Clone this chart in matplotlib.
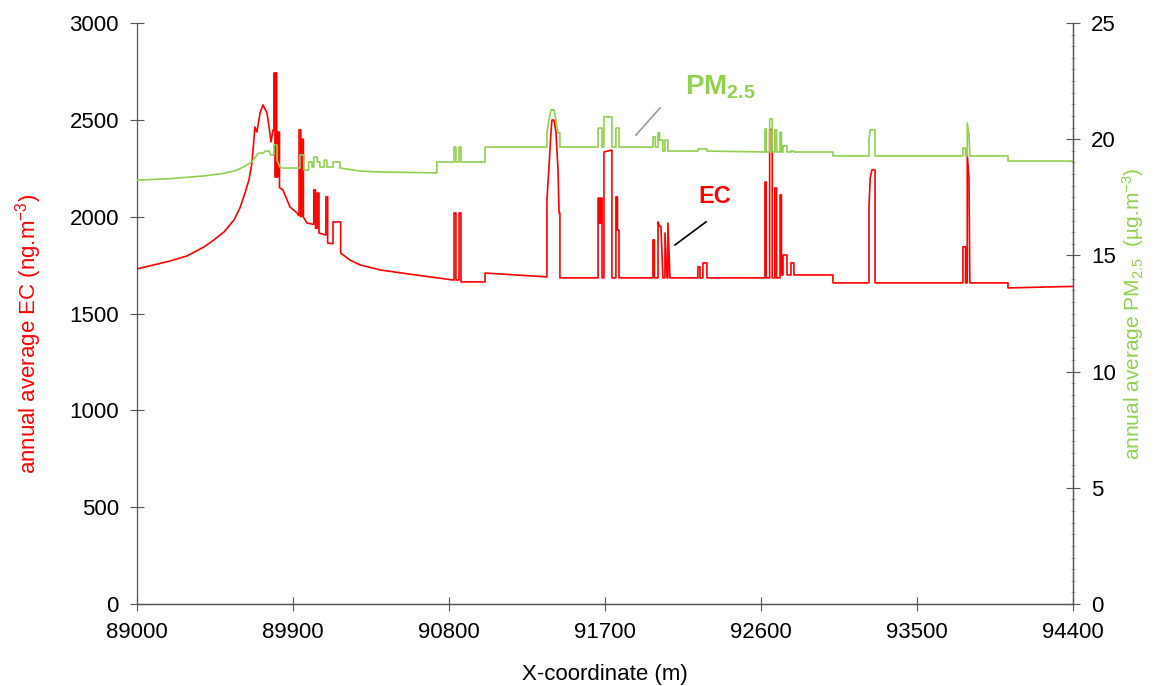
import numpy as np
import matplotlib.pyplot as plt

plt.rcParams['font.family'] = ['Liberation Sans', 'DejaVu Sans']
plt.rcParams['mathtext.fontset'] = 'custom'
plt.rcParams['mathtext.rm'] = 'Liberation Sans'
plt.rcParams['mathtext.it'] = 'Liberation Sans:italic'
plt.rcParams['mathtext.bf'] = 'Liberation Sans:bold'
plt.rcParams['mathtext.default'] = 'regular'

# EC profile (ng/m3), step vertices
ec_x = [89000, 89098, 89190, 89288, 89387, 89444, 89502, 89560, 89594, 89623,
        89646, 89663, 89675, 89680,
        89692, 89710, 89727, 89750, 89762, 89773, 89785, 89790, 89790, 89796,
        89796, 89802, 89802, 89806, 89806, 89813, 89813, 89822, 89822, 89842,
        89883, 89923, 89935, 89935, 89945, 89945, 89950, 89950, 89960, 89960,
        89981, 90020, 90020, 90030, 90030, 90040, 90040, 90050, 90050, 90090,
        90090, 90100, 90100, 90131, 90131, 90175, 90175, 90229, 90287, 90402,
        90600, 90823, 90829, 90829, 90840, 90840, 90858, 90858, 90869, 90869,
        91008, 91008, 91365, 91365, 91377, 91388, 91394, 91406, 91417, 91429,
        91435, 91440, 91440, 91660, 91660, 91668, 91668, 91676, 91676, 91683,
        91683, 91694, 91694, 91740, 91740, 91763, 91763, 91772, 91772, 91781,
        91781, 91977, 91977, 91985, 91985, 92006, 92006, 92015, 92023, 92034,
        92046, 92046, 92058, 92063, 92063, 92075, 92236, 92236, 92248, 92248,
        92265, 92265, 92288, 92288, 92623, 92623, 92630, 92630, 92650, 92650,
        92665, 92665, 92680, 92680, 92690, 92690, 92710, 92710, 92718, 92718,
        92727, 92727, 92750, 92750, 92773, 92773, 92790, 92790, 93015, 93015,
        93223, 93223, 93230, 93240, 93258, 93258, 93765, 93765, 93780, 93780,
        93790, 93790, 93800, 93805, 94025, 94025, 94400]
ec_y = [1730, 1751, 1771, 1797, 1844, 1880, 1921, 1983, 2045, 2122,
        2190, 2277, 2400, 2463,
        2437, 2535, 2577, 2535, 2463, 2386, 2448, 2448, 2742, 2742,
        2205, 2205, 2742, 2742, 2205, 2205, 2437, 2437, 2150, 2138,
        2050, 2019, 2005, 2448, 2448, 2000, 2000, 2400, 2400, 1998,
        1967, 1960, 2138, 2138, 1940, 1940, 2122, 2122, 1916, 1905,
        2102, 2102, 1864, 1860, 1973, 1973, 1812, 1776, 1751, 1725,
        1700, 1673, 1673, 2019, 2019, 1673, 1673, 2019, 2019, 1663,
        1663, 1709, 1689, 2086, 2257, 2432, 2499, 2499, 2437, 2241,
        2019, 2019, 1684, 1684, 2096, 2096, 1967, 1967, 2096, 2096,
        1684, 1684, 2334, 2344, 1684, 1684, 2102, 2102, 1931, 1931,
        1684, 1684, 1880, 1880, 1684, 1684, 1973, 1950, 1950, 1684,
        1684, 1916, 1684, 1684, 1967, 1684, 1684, 1741, 1741, 1684,
        1684, 1761, 1761, 1684, 1684, 2179, 2179, 1684, 1684, 2450,
        2450, 1684, 1684, 2148, 2148, 1684, 1684, 2112, 2112, 1699,
        1699, 1802, 1802, 1699, 1699, 1761, 1761, 1699, 1699, 1658,
        1658, 2050, 2200, 2241, 2241, 1658, 1658, 1844, 1844, 1658,
        1658, 2319, 2200, 1658, 1658, 1632, 1640]

# PM2.5 profile (ug/m3)
pm_x = [89000, 89190, 89387, 89502, 89577, 89635, 89663, 89700, 89727, 89740, 89762, 89770,
        89790, 89790, 89808, 89808, 89825, 89842, 89940, 89940, 89963, 89963,
        89990, 89990, 90010, 90010, 90020, 90020, 90040, 90040, 90055, 90055,
        90080, 90080, 90096, 90096, 90131, 90131, 90171, 90171, 90287, 90402,
        90730, 90730, 90829, 90829, 90840, 90840, 90858, 90858, 90869, 90869,
        91008, 91008, 91365, 91365, 91377, 91388, 91406, 91417, 91429, 91440,
        91440, 91660, 91660, 91683, 91683, 91694, 91694, 91740, 91740, 91763,
        91763, 91781, 91781, 91977, 91977, 91990, 91990, 92006, 92006, 92015,
        92015, 92034, 92034, 92046, 92046, 92063, 92063, 92236, 92236, 92288,
        92288, 92623, 92623, 92630, 92630, 92650, 92650, 92665, 92665, 92680,
        92680, 92690, 92690, 92710, 92710, 92718, 92718, 92727, 92727, 92750,
        92750, 92773, 92773, 92790, 92790, 93015, 93015, 93223, 93223, 93230,
        93258, 93258, 93765, 93765, 93780, 93780, 93790, 93790, 93800, 93805,
        94025, 94025, 94400]
pm_y = [18.24, 18.30, 18.42, 18.53, 18.67, 18.89, 19.03, 19.40, 19.40, 19.49, 19.49, 19.32,
        19.32, 19.75, 19.75, 19.10, 18.80, 18.76, 18.76, 19.32, 19.32, 18.67,
        18.67, 19.02, 19.02, 18.80, 18.80, 19.23, 19.23, 19.02, 19.02, 18.80,
        18.80, 19.10, 19.10, 18.80, 18.80, 19.02, 19.02, 18.76, 18.63, 18.59,
        18.55, 19.02, 19.02, 19.66, 19.66, 19.02, 19.02, 19.66, 19.66, 19.02,
        19.02, 19.66, 19.66, 20.27, 20.83, 21.26, 21.26, 20.83, 20.27, 20.27,
        19.66, 19.66, 20.48, 20.48, 19.66, 19.66, 20.96, 20.96, 19.66, 19.66,
        20.48, 20.48, 19.66, 19.66, 20.10, 20.10, 19.66, 19.66, 20.27, 20.27,
        19.96, 19.96, 19.49, 19.49, 19.96, 19.96, 19.49, 19.49, 19.58, 19.58,
        19.49, 19.45, 20.44, 20.44, 19.45, 19.45, 20.87, 20.87, 19.45, 19.45,
        20.40, 20.40, 19.45, 19.45, 20.30, 20.30, 19.45, 19.45, 19.71, 19.71,
        19.45, 19.45, 19.49, 19.49, 19.45, 19.45, 19.28, 19.28, 20.00, 20.40,
        20.40, 19.28, 19.28, 19.62, 19.62, 19.28, 19.28, 20.70, 20.20, 19.28,
        19.28, 19.06, 19.06]

x_ticks = [89000, 89900, 90800, 91700, 92600, 93500, 94400]

red = '#ff0000'
green = '#92d050'
axis_col = '#555555'

fig = plt.figure(figsize=(11.55, 6.86), dpi=100)
ax = fig.add_axes([0.1186, 0.1195, 0.8104, 0.847])
ax2 = ax.twinx()

ax.plot(ec_x, ec_y, color=red, lw=1.2)
ax2.plot(pm_x, pm_y, color=green, lw=1.2)

ax.set_xlim(89000, 94400)
ax.set_ylim(0, 3000)
ax2.set_ylim(0, 25)
ax.set_xticks(x_ticks)
ax.set_yticks(np.arange(0, 3001, 500))
ax2.set_yticks(np.arange(0, 26, 5))
ax2.set_yticks(np.arange(0, 25.1, 0.5), minor=True)

for a in (ax, ax2):
    a.spines['top'].set_visible(False)
    for s in ('left', 'right', 'bottom'):
        a.spines[s].set_color(axis_col)
        a.spines[s].set_linewidth(0.9)
    a.tick_params(direction='inout', length=10, width=0.8, color=axis_col,
                  labelsize=16, pad=8)
ax2.spines['left'].set_visible(False)
ax2.tick_params(axis='y', which='minor', direction='inout', length=2.5,
                width=0.5, color='#888888')

ax.set_xlabel('X-coordinate (m)', fontsize=16, labelpad=15)
ax.set_ylabel('annual average EC (ng.m$^{-3}$)', color=red, fontsize=16, labelpad=18)
ax.yaxis.label.set_y(0.465)
ax2.set_ylabel('annual average PM$_{2.5}$  (µg.m$^{-3}$)', color=green,
               fontsize=15, labelpad=3)

# labels on the curves
ax2.text(92363, 22.25, 'PM$_{\\mathbf{2.5}}$', color=green, fontsize=20,
         fontweight='bold', ha='center', va='center')
ax2.plot([92017, 91879], [21.34, 20.18], color='#999999', lw=1.2)
ax.text(92335, 2102, 'EC', color=red, fontsize=17, fontweight='bold',
        ha='center', va='center')
ax.plot([92283, 92104], [1973, 1854], color='black', lw=1.2)

fig.savefig('out.png', dpi=100)
